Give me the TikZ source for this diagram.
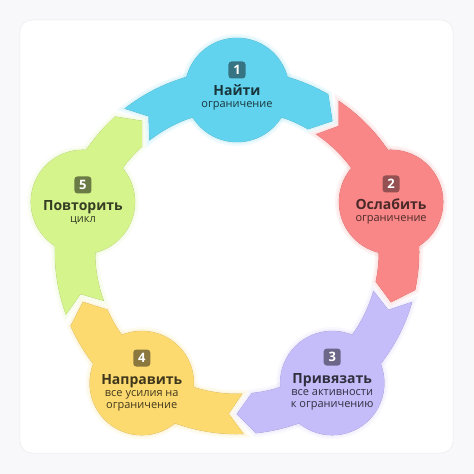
\documentclass[tikz,border=0pt]{standalone}
\usepackage{fontspec}
\setmainfont{Open Sans}

\definecolor{pagebg}{HTML}{F8F7FA}
\definecolor{panelline}{HTML}{ECEBF0}
\definecolor{segblue}{HTML}{62D3EE}
\definecolor{segred}{HTML}{F98787}
\definecolor{segpurple}{HTML}{C5BCFA}
\definecolor{segyellow}{HTML}{FDDA70}
\definecolor{seggreen}{HTML}{D5F58C}

\tikzset{
every picture/.style={
line width=0.5pt
}}

% one arrow band of the ring, #1 = angle of its circle
\newcommand{\ringband}[1]{(#1+38:182) arc[start angle=#1+38, end angle=#1-30, radius=182]
  -- (#1-36:162) -- (#1-30:142) arc[start angle=#1-30, end angle=#1+38, radius=142]
  -- (#1+33:162) -- cycle}
\newcommand{\ringdisc}[1]{(#1:162) circle[radius=52]}

\begin{document}
\begin{tikzpicture}[x=1pt, y=1pt,
glow/.style = {line width=#1, opacity=0.10},
badge/.style = {rectangle, rounded corners=3pt, minimum size=17pt, inner sep=0pt,
  text=white, font=\bfseries\fontsize{13}{13}\selectfont},
title/.style = {anchor=base, inner sep=0pt, font=\bfseries\fontsize{14}{14}\selectfont},
subtitle/.style = {anchor=base, inner sep=0pt, align=center,
  font=\fontsize{11}{12.5}\selectfont}]

\fill[pagebg] (-237,-222) rectangle (237,252);
\draw[panelline, fill=white, rounded corners=12pt] (-217,-201) rectangle (216,232);

\foreach \ang/\col in {90/segblue, 18/segred, -54/segpurple, -126/segyellow, 162/seggreen} {
  \draw[\col, glow=8pt] \ringband{\ang};
  \draw[\col, glow=8pt] \ringdisc{\ang};
  \draw[\col, glow=4pt] \ringband{\ang};
  \draw[\col, glow=4pt] \ringdisc{\ang};
  \filldraw[fill=\col, draw=\col!80!black] \ringband{\ang};
  \filldraw[fill=\col, draw=\col!80!black] \ringdisc{\ang};
  \fill[\col] \ringband{\ang};
  \fill[\col] \ringdisc{\ang};
}

\coordinate (c1) at (90:162);
\coordinate (c2) at (18:162);
\coordinate (c3) at (-54:162);
\coordinate (c4) at (-126:162);
\coordinate (c5) at (162:162);

% 1
\node[badge, fill=segblue!55!black] (n1) at ([yshift=20pt]c1) {1};
\node[title, text=segblue!25!black] (t1) at ([yshift=-6pt]c1) {Найти};
\node[subtitle, text=segblue!25!black] (s1) at ([yshift=-18pt]c1) {ограничение};
% 2
\node[badge, fill=segred!60!black] (n2) at ([yshift=18pt]c2) {2};
\node[title, text=segred!30!black] (t2) at ([yshift=-8pt]c2) {Ослабить};
\node[subtitle, text=segred!30!black] (s2) at ([yshift=-20pt]c2) {ограничение};
% 3
\node[badge, fill=segpurple!55!black] (n3) at ([yshift=26pt]c3) {3};
\node[title, text=segpurple!25!black] (t3) at ([yshift=0pt]c3) {Привязать};
\node[subtitle, text=segpurple!25!black] (s3) at ([yshift=-24.5pt]c3) {все активности\\к ограничению};
% 4
\node[badge, fill=segyellow!55!black] (n4) at ([yshift=25pt]c4) {4};
\node[title, text=segyellow!25!black] (t4) at ([yshift=-1pt]c4) {Направить};
\node[subtitle, text=segyellow!25!black] (s4) at ([yshift=-25.5pt]c4) {все усилия на\\ограничение};
% 5
\node[badge, fill=seggreen!50!black] (n5) at ([yshift=17pt]c5) {5};
\node[title, text=seggreen!25!black] (t5) at ([yshift=-9pt]c5) {Повторить};
\node[subtitle, text=seggreen!25!black] (s5) at ([yshift=-21pt]c5) {цикл};

\end{tikzpicture}
\end{document}
